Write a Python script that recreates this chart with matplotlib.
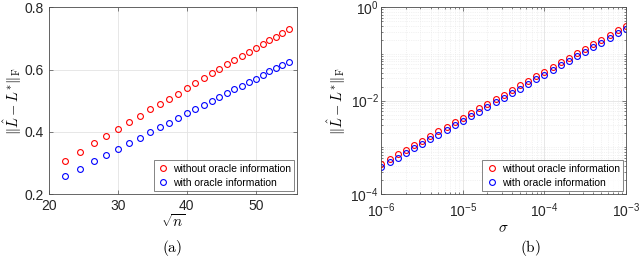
import matplotlib
matplotlib.use("Agg")
import matplotlib.pyplot as plt
from matplotlib.ticker import LogLocator, NullFormatter

plt.rcParams['font.family'] = ['Liberation Sans', 'DejaVu Sans']
plt.rcParams['mathtext.fontset'] = 'cm'

# (a) error vs sqrt(n)
sqrt_n = [22.36, 24.49, 26.46, 28.28, 30.00, 31.62, 33.17, 34.64, 36.06, 37.42,
          38.73, 40.00, 41.23, 42.43, 43.59, 44.72, 45.83, 46.90, 47.96, 48.99,
          50.00, 50.99, 51.96, 52.92, 53.85, 54.77]
err_a_without = [0.307, 0.336, 0.363, 0.386, 0.409, 0.431, 0.452, 0.472, 0.489, 0.506,
                 0.523, 0.541, 0.557, 0.573, 0.589, 0.603, 0.617, 0.631, 0.644, 0.656,
                 0.668, 0.681, 0.694, 0.706, 0.717, 0.729]
err_a_with = [0.258, 0.281, 0.305, 0.325, 0.345, 0.363, 0.381, 0.398, 0.414, 0.429,
              0.444, 0.459, 0.473, 0.487, 0.500, 0.513, 0.525, 0.536, 0.548, 0.560,
              0.571, 0.582, 0.594, 0.605, 0.615, 0.625]

# (b) error vs sigma
sigma = [1.0e-6, 1.26e-6, 1.58e-6, 2.0e-6, 2.51e-6, 3.16e-6, 3.98e-6, 5.01e-6, 6.31e-6, 7.94e-6,
         1.0e-5, 1.26e-5, 1.58e-5, 2.0e-5, 2.51e-5, 3.16e-5, 3.98e-5, 5.01e-5, 6.31e-5, 7.94e-5,
         1.0e-4, 1.26e-4, 1.58e-4, 2.0e-4, 2.51e-4, 3.16e-4, 3.98e-4, 5.01e-4, 6.31e-4, 7.94e-4,
         1.0e-3]
err_b_without = [4.5e-4, 5.6e-4, 7.1e-4, 8.9e-4, 1.12e-3, 1.40e-3, 1.76e-3, 2.2e-3, 2.76e-3, 3.47e-3,
                 4.35e-3, 5.45e-3, 6.84e-3, 8.6e-3, 1.08e-2, 1.35e-2, 1.69e-2, 2.12e-2, 2.66e-2, 3.34e-2,
                 4.2e-2, 5.25e-2, 6.6e-2, 8.25e-2, 0.104, 0.130, 0.163, 0.204, 0.256, 0.321,
                 0.40]
err_b_with = [3.83e-4, 4.8e-4, 6.0e-4, 7.6e-4, 9.5e-4, 1.19e-3, 1.50e-3, 1.88e-3, 2.36e-3, 2.96e-3,
              3.71e-3, 4.66e-3, 5.85e-3, 7.34e-3, 9.2e-3, 1.16e-2, 1.45e-2, 1.82e-2, 2.29e-2, 2.87e-2,
              3.6e-2, 4.52e-2, 5.67e-2, 7.1e-2, 8.9e-2, 0.112, 0.141, 0.176, 0.221, 0.278,
              0.346]

labels = ["without oracle information", "with oracle information"]
ylab = r'$\|\hat{L}-L^{*}\|_{\mathrm{F}}$'
axcol = "#4d4d4d"
txtcol = "#262626"

fig = plt.figure(figsize=(6.4, 2.62), dpi=100)
ax1 = fig.add_axes([0.0766, 0.2595, 0.3875, 0.7126])
ax2 = fig.add_axes([0.596, 0.2595, 0.382, 0.7126])

mk = dict(marker="o", linestyle="none", markersize=4.2, markerfacecolor="none", markeredgewidth=0.8)

ax1.plot(sqrt_n, err_a_without, color="red", label=labels[0], **mk)
ax1.plot(sqrt_n, err_a_with, color="blue", label=labels[1], **mk)
ax1.set_xlim(20, 56)
ax1.set_ylim(0.2, 0.8)
ax1.set_xticks([20, 30, 40, 50])
ax1.set_yticks([0.2, 0.4, 0.6, 0.8])
ax1.grid(True, color="#e3e3e3", linewidth=0.6)
ax1.set_xlabel(r'$\sqrt{n}$', fontsize=11, labelpad=0)
ax1.set_ylabel(ylab, fontsize=10.5)
ax1.yaxis.set_label_coords(-0.10, 0.5)

ax2.loglog(sigma, err_b_without, color="red", label=labels[0], **mk)
ax2.loglog(sigma, err_b_with, color="blue", label=labels[1], **mk)
ax2.set_xlim(1e-6, 1e-3)
ax2.set_ylim(1e-4, 1)
ax2.set_xticks([1e-6, 1e-5, 1e-4, 1e-3])
ax2.set_yticks([1e-4, 1e-2, 1])
ax2.xaxis.set_minor_locator(LogLocator(base=10, subs=range(1, 10), numticks=20))
ax2.yaxis.set_minor_locator(LogLocator(base=10, subs=range(1, 10), numticks=20))
ax2.xaxis.set_minor_formatter(NullFormatter())
ax2.yaxis.set_minor_formatter(NullFormatter())
ax2.grid(True, which="major", color="#e3e3e3", linewidth=0.6)
ax2.grid(True, which="minor", color="#e6e6e6", linewidth=0.5, linestyle=":")
ax2.set_xlabel(r'$\sigma$', fontsize=11, labelpad=1)
ax2.set_ylabel(ylab, fontsize=10.5)
ax2.yaxis.set_label_coords(-0.138, 0.5)

for ax in (ax1, ax2):
    ax.set_axisbelow(True)
    for s in ax.spines.values():
        s.set_color(axcol)
        s.set_linewidth(0.6)
    ax.tick_params(which="both", direction="in", top=True, right=True,
                   colors=axcol, labelcolor=txtcol, labelsize=10, width=0.5)
    ax.tick_params(which="major", length=3)
    ax.tick_params(which="minor", length=1.5)
    leg = ax.legend(loc="lower right", fontsize=7.5, frameon=True, fancybox=False,
                    borderaxespad=0.25, handletextpad=0.3, borderpad=0.35,
                    labelspacing=0.4, handlelength=1.2)
    leg.get_frame().set_edgecolor(axcol)
    leg.get_frame().set_linewidth(0.6)

ax2.tick_params(axis="y", pad=2)
ax2.tick_params(axis="x", pad=5)

fig.text(0.269, 0.053, r'$\mathrm{(a)}$', ha="center", va="center", fontsize=11)
fig.text(0.829, 0.053, r'$\mathrm{(b)}$', ha="center", va="center", fontsize=11)

fig.savefig("out.png", dpi=100)
